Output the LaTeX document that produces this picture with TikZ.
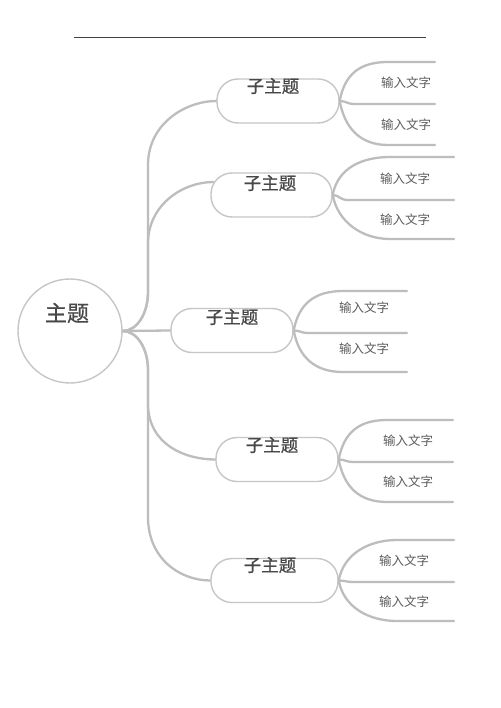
\documentclass[tikz,border=0pt]{standalone}
\usepackage{fontspec}
\setmainfont{Noto Sans CJK SC}
\newfontfamily\medfont[FakeBold=0.7]{Noto Sans CJK SC}
\usetikzlibrary{calc}
\definecolor{linegray}{HTML}{BDBDBD}
\definecolor{boxgray}{HTML}{C6C6C6}
\definecolor{topicgray}{HTML}{484848}
\definecolor{leafgray}{HTML}{5C5C5C}
\begin{document}
\begin{tikzpicture}[x=1pt,y=-1pt,
  branch/.style={draw=linegray, line width=2.3pt, line cap=round},
  subbox/.style={draw=boxgray, line width=1.4pt, rounded corners=21pt, minimum height=44pt, inner sep=0pt},
  maincircle/.style={draw=boxgray, line width=1.4pt, circle, minimum size=104pt, inner sep=0pt},
  maintext/.style={font=\fontsize{22}{24}\medfont, text=topicgray, inner sep=0pt},
  subtext/.style={font=\fontsize{17.5}{20}\medfont, text=topicgray, inner sep=0pt},
  leaftext/.style={font=\fontsize{12.5}{14}\selectfont, text=leafgray, inner sep=0pt},
  rule/.style={draw=black!75, line width=0.6pt}]
\useasboundingbox (0,0) rectangle (500,708);
\fill[white] (0,0) rectangle (500,708);

% top rule
\coordinate (r1) at (74,37);
\coordinate (r2) at (426,37);
\draw[rule] (r1) -- (r2);

% main topic
\node[maincircle] (m) at (70,331) {};
\node[maintext] (mt) at (67,313) {主题};

% sub topics with leaves
\foreach \b/\cx/\cy/\w/\tx/\ty/\yt/\ym/\yb/\xe/\xh/\lx/\lo in {
 1/278/101/122/273/86/62/104/145/435/388/406/0,
 2/271.5/195/121/270/183/157/200/239/454/390/405/0,
 3/232/330.5/122/232/317/291/333/372/407/343/364/-4,
 4/277/459.5/122/272/445/420/462/502/453/387/408/0,
 5/274.5/580.5/127/270/565/540/582/621/454/397/404/0}{
  \node[subbox, minimum width=\w pt] (b\b) at (\cx,\cy) {};
  \node[subtext] (bt\b) at (\tx,\ty) {子主题};
  \coordinate (t\b) at (\xe,\yt);
  \coordinate (c\b) at (\xe,\ym);
  \coordinate (d\b) at (\xe,\yb);
  \draw[branch] (b\b.east) .. controls +(5,-27) and +(-28,0) .. (\xh,\yt) -- (t\b);
  \draw[branch] (b\b.east) .. controls +(5,27) and +(-28,0) .. (\xh,\yb) -- (d\b);
  \draw[branch] (b\b.east) .. controls +(6,0) and +(-6,0) .. ($(b\b.east)+(14,{\ym-\cy})$) -- (c\b);
  \node[leaftext] (la\b) at (\lx,{(\yt+\ym)/2+\lo}) {输入文字};
  \node[leaftext] (lb\b) at (\lx,{(\ym+\yb)/2+\lo}) {输入文字};
}

% connectors from main topic
\coordinate (e2) at ($(b2.west)+(3,-13)$);
\draw[branch] (m.east) .. controls +(14,0) and +(0,22) .. (148,292) -- (148,165)
  .. controls +(0,-42) and +(-30,0) .. (b1.west);
\draw[branch] (m.east) .. controls +(14,0) and +(0,22) .. (148,292) -- (148,242)
  .. controls +(1,-38) and +(-30,0) .. (e2);
\draw[branch] (m.east) -- (b3.west);
\draw[branch] (m.east) .. controls +(14,0) and +(0,-22) .. (148,370) -- (148,405)
  .. controls +(1,40) and +(-30,0) .. (b4.west);
\draw[branch] (m.east) .. controls +(14,0) and +(0,-22) .. (148,370) -- (148,517)
  .. controls +(0,42) and +(-30,0) .. (b5.west);
\end{tikzpicture}
\end{document}
